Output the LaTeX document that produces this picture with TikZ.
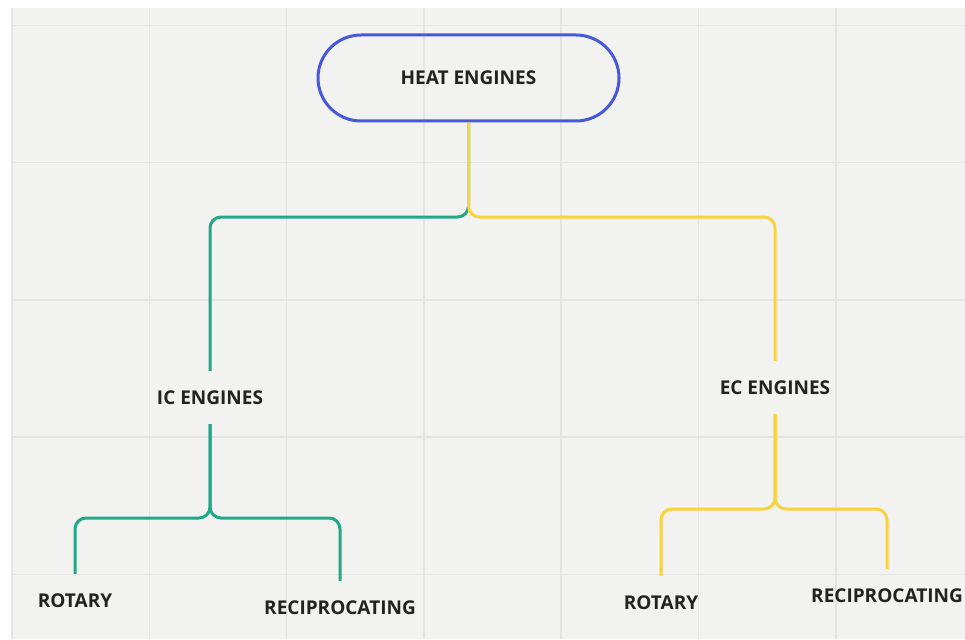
\documentclass[tikz,border=0pt]{standalone}
\usepackage{fontspec}
\setmainfont{Open Sans}
\usepackage{tikz}
\usetikzlibrary{positioning}
\definecolor{boardbg}{HTML}{F2F2F1}
\definecolor{gridline}{HTML}{E4E4E3}
\definecolor{headblue}{HTML}{4858DB}
\definecolor{icgreen}{HTML}{20A887}
\definecolor{ecyellow}{HTML}{FAD23C}
\definecolor{inktext}{HTML}{222222}

\begin{document}
\begin{tikzpicture}[x=1pt,y=-1pt,
  lbl/.style={inner sep=0pt,minimum height=53pt,font=\fontsize{19}{23}\selectfont\bfseries,text=inktext},
  headbox/.style={lbl,draw=headblue,line width=3pt,rounded corners=43pt,minimum width=301pt,minimum height=86pt},
  gbranch/.style={icgreen,line width=3pt,rounded corners=11pt},
  ybranch/.style={ecyellow,line width=3pt,rounded corners=11pt}]
  \useasboundingbox (0,0) rectangle (965,639);
  % board
  \fill[boardbg] (11,8) rectangle (965,639);
  \foreach \gx in {12,149.3,286.6,423.9,561.2,698.5,835.8}
    \draw[gridline,line width=1.5pt] (\gx,8) -- (\gx,639);
  \foreach \gy in {25.3,162.6,299.9,437.2,574.5}
    \draw[gridline,line width=1.5pt] (11,\gy) -- (965,\gy);
  % nodes
  \node[headbox] (heat) at (468.5,78) {HEAT ENGINES};
  \node[lbl] (ic) at (210,397.5) {IC ENGINES};
  \node[lbl] (ec) at (775,387.5) {EC ENGINES};
  \node[lbl] (icrot) at (75,600.5) {ROTARY};
  \node[lbl] (icrec) at (340,607.5) {RECIPROCATING};
  \node[lbl] (ecrot) at (661,602.5) {ROTARY};
  \node[lbl] (ecrec) at (887,595.5) {RECIPROCATING};
  % split points
  \coordinate (topsplit) at (468.5,217);
  \coordinate (icsplit) at (210,518);
  \coordinate (ecsplit) at (775,509);
  % branches
  \draw[gbranch] (heat.south) -- (topsplit) -| (ic.north);
  \draw[ybranch] (heat.south) -- (topsplit) -| (ec.north);
  \draw[gbranch] (ic.south) -- (icsplit) -| (icrot.north);
  \draw[gbranch] (ic.south) -- (icsplit) -| (icrec.north);
  \draw[ybranch] (ec.south) -- (ecsplit) -| (ecrot.north);
  \draw[ybranch] (ec.south) -- (ecsplit) -| (ecrec.north);
\end{tikzpicture}
\end{document}
